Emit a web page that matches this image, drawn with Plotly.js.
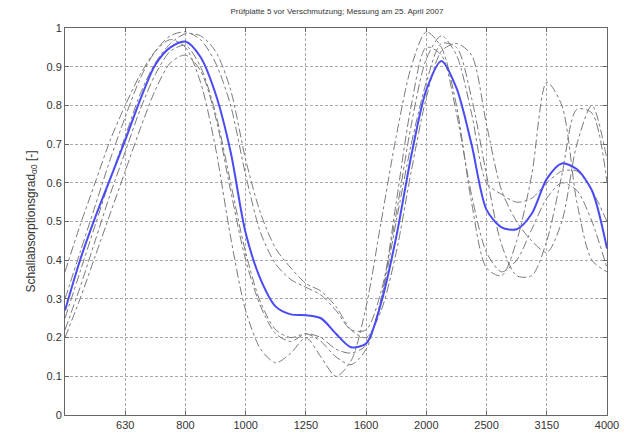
<!DOCTYPE html>
<html>
<head>
<meta charset="utf-8">
<script src="https://cdn.plot.ly/plotly-3.0.1.min.js"></script>
<style>html,body{margin:0;padding:0;background:#fff;}#chart{width:624px;height:434px;}</style>
</head>
<body>
<div id="chart"></div>
<script>
// Band positions (index of 1/3-octave band, 0 = 500 Hz ... 9 = 4000 Hz)
var bandPos = [0,0.25,0.5,0.75,1,1.25,1.5,1.75,2,2.25,2.5,2.75,3,3.25,3.5,3.75,4,4.25,4.5,4.75,5,5.25,5.5,5.75,6,6.25,6.5,6.75,7,7.25,7.5,7.75,8,8.25,8.5,8.75,9];
var tickPos = [1,2,3,4,5,6,7,8,9];
var tickLabels = ['630','800','1000','1250','1600','2000','2500','3150','4000'];

// Mean curve (blue)
var meanCurve = [0.27,0.40,0.51,0.61,0.71,0.815,0.905,0.95,0.965,0.925,0.83,0.68,0.47,0.35,0.28,0.26,0.258,0.25,0.21,0.175,0.185,0.29,0.46,0.67,0.84,0.915,0.845,0.70,0.53,0.485,0.48,0.52,0.61,0.65,0.635,0.58,0.43];

// Individual measurements (grey dash-dot)
var meas1 = [0.37,0.49,0.60,0.71,0.80,0.88,0.94,0.97,0.95,0.86,0.69,0.46,0.27,0.17,0.135,0.16,0.20,0.15,0.10,0.14,0.28,0.50,0.72,0.90,0.99,0.95,0.80,0.55,0.38,0.36,0.45,0.62,0.86,0.80,0.55,0.40,0.37];
var meas2 = [0.30,0.42,0.54,0.66,0.77,0.87,0.94,0.98,0.99,0.97,0.91,0.80,0.62,0.47,0.39,0.35,0.33,0.31,0.27,0.22,0.22,0.32,0.52,0.75,0.92,0.98,0.93,0.78,0.60,0.57,0.55,0.56,0.60,0.63,0.63,0.58,0.50];
var meas3 = [0.20,0.30,0.41,0.52,0.63,0.74,0.84,0.91,0.93,0.89,0.77,0.58,0.40,0.28,0.21,0.19,0.21,0.20,0.17,0.16,0.18,0.30,0.50,0.70,0.86,0.96,0.95,0.82,0.62,0.44,0.36,0.36,0.45,0.62,0.79,0.78,0.60];
var meas4 = [0.25,0.37,0.49,0.61,0.72,0.83,0.91,0.96,0.985,0.98,0.94,0.84,0.66,0.52,0.43,0.38,0.34,0.32,0.28,0.22,0.20,0.27,0.42,0.63,0.82,0.94,0.96,0.93,0.75,0.58,0.50,0.45,0.42,0.50,0.70,0.80,0.66];
var meas5 = [0.22,0.33,0.45,0.57,0.68,0.79,0.88,0.94,0.955,0.90,0.78,0.60,0.42,0.29,0.22,0.20,0.21,0.19,0.15,0.13,0.17,0.30,0.55,0.80,0.95,0.93,0.78,0.57,0.42,0.37,0.40,0.48,0.56,0.60,0.58,0.50,0.38];

var measSets = [meas1, meas2, meas3, meas4, meas5];
var traces = measSets.map(function(m){
  return {x: bandPos, y: m, type:'scatter', mode:'lines',
    line:{color:'#7a7a7a', width:1, dash:'dashdot', shape:'spline', smoothing:0.8},
    hoverinfo:'skip', showlegend:false};
});
traces.push({x: bandPos, y: meanCurve, type:'scatter', mode:'lines',
  line:{color:'#4b4bf5', width:2, shape:'spline', smoothing:0.8}, showlegend:false});

var layout = {
  width:624, height:434,
  margin:{l:65, r:17, t:28, b:19},
  paper_bgcolor:'#fff', plot_bgcolor:'#fff',
  font:{family:'Liberation Sans, Arial, sans-serif', size:11, color:'#222'},
  title:{text:'Prüfplatte 5 vor Verschmutzung; Messung am 25. April 2007', font:{size:8, color:'#333'}, x:0.54, xanchor:'center', y:0.975, yanchor:'middle'},
  xaxis:{range:[0,9], tickmode:'array', tickvals:tickPos, ticktext:tickLabels,
    showline:true, linecolor:'#666', linewidth:1, mirror:'ticks', ticks:'inside', ticklen:4, tickcolor:'#666',
    showgrid:true, gridcolor:'#aaa', griddash:'3px,2px', gridwidth:1, zeroline:false, tickfont:{size:11, color:'#333'}},
  yaxis:{range:[0,1], tickmode:'array', tickvals:[0,0.1,0.2,0.3,0.4,0.5,0.6,0.7,0.8,0.9,1],
    ticktext:['0','0.1','0.2','0.3','0.4','0.5','0.6','0.7','0.8','0.9','1'],
    showline:true, linecolor:'#666', linewidth:1, mirror:'ticks', ticks:'inside', ticklen:4, tickcolor:'#666',
    showgrid:true, gridcolor:'#aaa', griddash:'3px,2px', gridwidth:1, zeroline:false, tickfont:{size:11, color:'#333'},
    title:{text:'Schallabsorptionsgrad<sub>α0</sub> [-]', font:{size:12, color:'#333'}, standoff:8}}
};
Plotly.newPlot('chart', traces, layout, {displayModeBar:false, staticPlot:true});
</script>
</body>
</html>
